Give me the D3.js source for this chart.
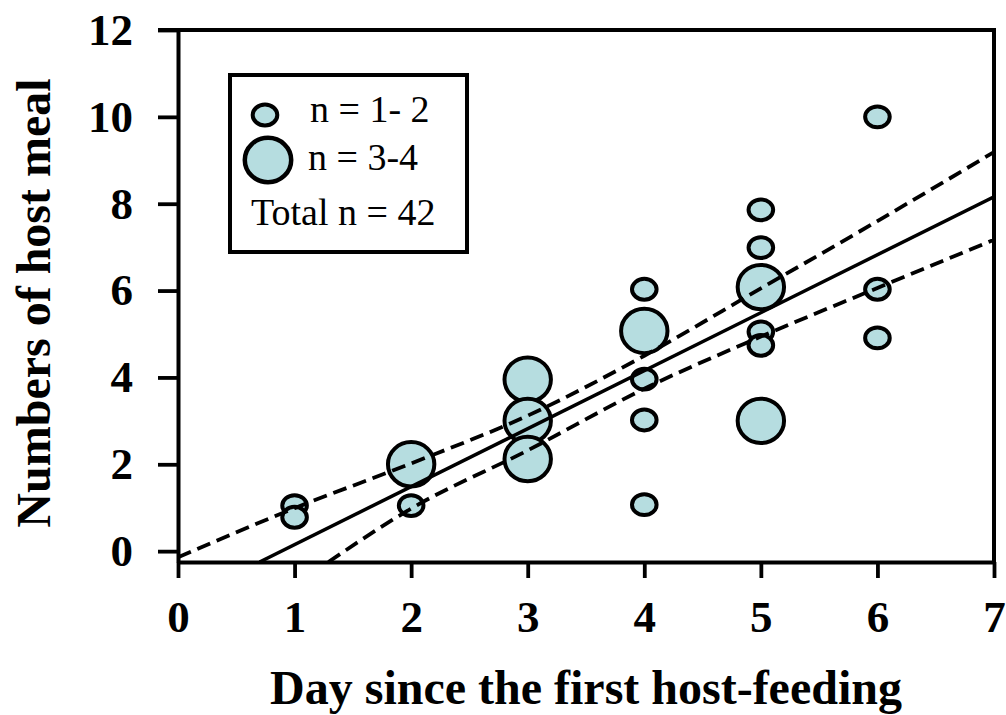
<!DOCTYPE html>
<html>
<head>
<meta charset="utf-8">
<script src="https://cdn.jsdelivr.net/npm/d3@7"></script>
<style>
  html, body { margin: 0; padding: 0; background: #fff; }
  svg { display: block; }
</style>
</head>
<body>
<script>
// ---------- data ----------
const xTicks = [0, 1, 2, 3, 4, 5, 6, 7];
const yTicks = [0, 2, 4, 6, 8, 10, 12];

// individual points: day, number of host meals, size group (0: n = 1-2, 1: n = 3-4)
const pointDay   = [1, 1, 2, 2, 3, 3, 3, 4, 4, 4, 4, 4, 5, 5, 5, 5, 5, 5, 6, 6, 6];
const pointMeal  = [1.05, 0.78, 2.0, 1.05, 3.95, 3.0, 2.12, 6.03, 5.07, 3.96, 3.02, 1.07, 7.86, 6.99, 6.08, 5.05, 4.74, 3.0, 10.0, 6.03, 4.91];
const pointGroup = [0, 0, 1, 0, 1, 1, 1, 0, 1, 0, 0, 0, 0, 0, 1, 0, 0, 1, 0, 0, 0];

// regression line and confidence band
const fitX = [0.70, 7];
const fitY = [-0.25, 8.16];
const upperX = [0, 1, 2, 3, 4, 5, 6, 7];
const upperY = [-0.14, 0.99, 2.02, 3.12, 4.5, 6.05, 7.6, 9.19];
const lowerX = [1.29, 2, 3, 4, 5, 6, 7];
const lowerY = [-0.25, 0.98, 2.32, 3.74, 4.94, 6.06, 7.17];

const legendLabels = ["n = 1- 2", "n = 3-4"];
const totalLabel = "Total n = 42";
const xTitle = "Day since the first host-feeding";
const yTitle = "Numbers of host meal";

// ---------- drawing ----------
const W = 1006, H = 715;
const FILL = "#b6dde0";
const svg = d3.select("body").append("svg").attr("width", W).attr("height", H);

const x = d3.scaleLinear().domain([0, 7]).range([178, 994]);
const y = d3.scaleLinear().domain([-0.25, 12]).range([562, 30]);

svg.append("defs").append("clipPath").attr("id", "plotclip")
  .append("rect").attr("x", x(0)).attr("y", y(12)).attr("width", x(7) - x(0)).attr("height", y(-0.25) - y(12));

// points
const rx = [12.3, 23.2], ry = [10.4, 22.2];
const pts = pointDay.map((d, i) => ({ d, m: pointMeal[i], g: pointGroup[i] }))
  .sort((a, b) => a.d - b.d || b.m - a.m);
svg.append("g").selectAll("ellipse").data(pts).join("ellipse")
  .attr("cx", p => x(p.d)).attr("cy", p => y(p.m))
  .attr("rx", p => rx[p.g]).attr("ry", p => ry[p.g])
  .attr("fill", FILL).attr("stroke", "#000").attr("stroke-width", 4);

// lines
const lg = svg.append("g").attr("clip-path", "url(#plotclip)");
const lineGen = d3.line().x(p => x(p[0])).y(p => y(p[1]));
const curveGen = d3.line().x(p => x(p[0])).y(p => y(p[1])).curve(d3.curveMonotoneX);
lg.append("path").attr("d", lineGen(fitX.map((v, i) => [v, fitY[i]])))
  .attr("fill", "none").attr("stroke", "#000").attr("stroke-width", 3.5);
lg.append("path").attr("d", curveGen(upperX.map((v, i) => [v, upperY[i]])))
  .attr("fill", "none").attr("stroke", "#000").attr("stroke-width", 3.8).attr("stroke-dasharray", "14,7");
lg.append("path").attr("d", curveGen(lowerX.map((v, i) => [v, lowerY[i]])))
  .attr("fill", "none").attr("stroke", "#000").attr("stroke-width", 3.8).attr("stroke-dasharray", "14,7");

// frame (top & right)
svg.append("path")
  .attr("d", `M${x(0) - 20},${y(12)} H${x(7)} V${y(-0.25)}`)
  .attr("fill", "none").attr("stroke", "#000").attr("stroke-width", 4);

// axes
const yAxis = svg.append("g").attr("transform", `translate(${x(0)},0)`)
  .call(d3.axisLeft(y).tickValues(yTicks).tickSize(20).tickSizeOuter(0).tickPadding(25).tickFormat(d3.format("d")));
const xAxis = svg.append("g").attr("transform", `translate(0,${y(-0.25)})`)
  .call(d3.axisBottom(x).tickValues(xTicks).tickSize(16).tickSizeOuter(0).tickPadding(22).tickFormat(d3.format("d")));
[yAxis, xAxis].forEach(a => {
  a.select(".domain").attr("stroke", "#000").attr("stroke-width", 4);
  a.selectAll(".tick line").attr("stroke", "#000").attr("stroke-width", 3.8);
  a.selectAll(".tick text").attr("fill", "#000")
    .style("font-family", "'Liberation Serif', 'Times New Roman', serif")
    .style("font-weight", "bold").style("font-size", "45px");
});

// titles
svg.append("text").attr("x", (x(0) + x(7)) / 2).attr("y", 704)
  .attr("text-anchor", "middle")
  .style("font-family", "'Liberation Serif', 'Times New Roman', serif")
  .style("font-weight", "bold").style("font-size", "48px").text(xTitle);
svg.append("text").attr("transform", `translate(50,${(y(12) + y(-0.25)) / 2 + 7}) rotate(-90)`)
  .attr("text-anchor", "middle")
  .style("font-family", "'Liberation Serif', 'Times New Roman', serif")
  .style("font-weight", "bold").style("font-size", "48px").text(yTitle);

// legend
const leg = svg.append("g");
leg.append("rect").attr("x", 230).attr("y", 75).attr("width", 237).attr("height", 177)
  .attr("fill", "#fff").attr("stroke", "#000").attr("stroke-width", 4);
const legCx = [265, 268], legCy = [115, 160];
leg.selectAll("ellipse").data(legendLabels).join("ellipse")
  .attr("cx", (d, i) => legCx[i]).attr("cy", (d, i) => legCy[i])
  .attr("rx", (d, i) => rx[i]).attr("ry", (d, i) => ry[i])
  .attr("fill", FILL).attr("stroke", "#000").attr("stroke-width", (d, i) => i ? 4.5 : 4);
const legTx = [310, 308], legTy = [122, 170];
leg.selectAll("text.lab").data(legendLabels).join("text").attr("class", "lab")
  .attr("x", (d, i) => legTx[i]).attr("y", (d, i) => legTy[i])
  .style("font-family", "'Liberation Serif', 'Times New Roman', serif")
  .style("font-size", "38px").text(d => d);
leg.append("text").attr("x", 251).attr("y", 225)
  .style("font-family", "'Liberation Serif', 'Times New Roman', serif")
  .style("font-size", "38px").text(totalLabel);
</script>
</body>
</html>
